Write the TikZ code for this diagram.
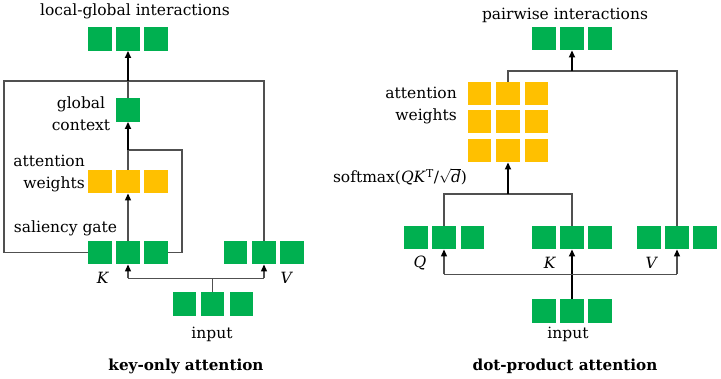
\documentclass[tikz,border=0pt]{standalone}
\usepackage{fontspec}
\setmainfont{DejaVu Serif}
\usetikzlibrary{arrows.meta}
\definecolor{sqgreen}{HTML}{00B050}
\definecolor{sqyellow}{HTML}{FFC000}
\definecolor{linegray}{HTML}{505050}
\begin{document}
\begin{tikzpicture}[x=1pt,y=-1pt,
  gsq/.style={fill=sqgreen,draw=none,minimum size=23.5pt,inner sep=0pt},
  ysq/.style={fill=sqyellow,draw=none,minimum size=23.5pt,inner sep=0pt},
  conn/.style={draw=linegray,line width=1.2pt},
  arr/.style={draw=black,line width=1.6pt,-{Triangle[length=7pt,width=6pt]}},
  arrg/.style={draw=linegray,line width=1.2pt,-{Triangle[length=7pt,width=6pt,fill=black,color=black]}},
  lbl/.style={font=\fontsize{15.5}{22}\selectfont,inner sep=0pt},
  ttl/.style={font=\fontsize{15.2}{18}\selectfont\bfseries,inner sep=0pt}
]
\useasboundingbox (0,0) rectangle (721,379);
% ---------- left: key-only attention ----------
\foreach \n/\x in {1/100,2/128,3/156} {
  \node[gsq] (lo\n) at (\x,39) {};
  \node[ysq] (law\n) at (\x,181.5) {};
  \node[gsq] (lk\n) at (\x,252.5) {};
}
\node[gsq] (lctx) at (128,110) {};
\foreach \n/\x in {1/235.5,2/264,3/292} {\node[gsq] (lv\n) at (\x,252.5) {};}
\foreach \n/\x in {1/184.5,2/212.5,3/241.5} {\node[gsq] (lin\n) at (\x,304) {};}
\coordinate (ltop) at (128,81);
\coordinate (ljoin) at (128,150);
\coordinate (linj) at (212.5,278.5);
% frame: V -> up -> left -> down -> K
\draw[conn] (lv2.north) |- (ltop) -- (4,81) -- (4,252.5) -- (lk1.west);
\draw[conn] (lctx.north) -- (ltop);
\draw[arr] (ltop) -- (lo2.south);
\draw[conn] (law2.north) -- (ljoin);
\draw[conn] (lk3.east) -- (182,252.5) |- (ljoin);
\draw[arr] (ljoin) -- (lctx.south);
\draw[arrg] (lk2.north) -- (law2.south);
\draw[conn] (lin2.north) -- (linj);
\draw[conn] (128,278.5) -- (264,278.5);
\draw[arrg] (lk2.south |- linj) -- (lk2.south);
\draw[arrg] (lv2.south |- linj) -- (lv2.south);
\node[lbl] (lt1) at (135,11) {local-global interactions};
\node[lbl,align=center] (lt2) at (81,114) {global\\context};
\node[lbl,align=right,anchor=east] (lt3) at (85,173.5) {attention\\weights};
\node[lbl] (lt4) at (65.5,228) {saliency gate};
\node[lbl] (lt5) at (103,278) {\textit{K}};
\node[lbl] (lt6) at (287,278) {\textit{V}};
\node[lbl] (lt7) at (212,334) {input};
\node[ttl] (lt8) at (186,366) {key-only attention};
% ---------- right: dot-product attention ----------
\foreach \n/\x in {1/544,2/572,3/600} {
  \node[gsq] (ro\n) at (\x,38.5) {};
  \node[gsq] (rk\n) at (\x,237.5) {};
  \node[gsq] (rin\n) at (\x,311) {};
}
\foreach \n/\x in {1/416,2/444,3/472.5} {\node[gsq] (rq\n) at (\x,237.5) {};}
\foreach \n/\x in {1/649,2/677,3/705} {\node[gsq] (rv\n) at (\x,237.5) {};}
\foreach \r/\y in {1/93.5,2/121.5,3/150.5} {
  \foreach \c/\x in {1/479.5,2/508,3/536.5} {\node[ysq] (g\r\c) at (\x,\y) {};}
}
\coordinate (rtop) at (572,71);
\coordinate (rmid) at (508,194);
\coordinate (rbot) at (572,274.5);
\draw[conn] (g12.north) |- (rtop) -| (rv2.north);
\draw[arr] (rtop) -- (ro2.south);
\draw[conn] (rq2.north) |- (rmid) -| (rk2.north);
\draw[arr] (rmid) -- (g32.south);
\draw[arr] (rin2.north) -- (rk2.south);
\draw[conn] (444,274.5) -- (677,274.5);
\draw[arrg] (rq2.south |- rbot) -- (rq2.south);
\draw[arrg] (rv2.south |- rbot) -- (rv2.south);
\node[lbl] (rt1) at (565,15) {pairwise interactions};
\node[lbl,align=right,anchor=east] (rt2) at (457,106) {attention\\weights};
\node[lbl] (rt3) at (400,177) {softmax(\textit{QK}\textsuperscript{T}/$\sqrt{\mbox{\itshape d}}$)};
\node[lbl] (rt4) at (420,263) {\textit{Q}};
\node[lbl] (rt5) at (550,263) {\textit{K}};
\node[lbl] (rt6) at (652,263) {\textit{V}};
\node[lbl] (rt7) at (568,334) {input};
\node[ttl] (rt8) at (565,366) {dot-product attention};
\end{tikzpicture}
\end{document}
